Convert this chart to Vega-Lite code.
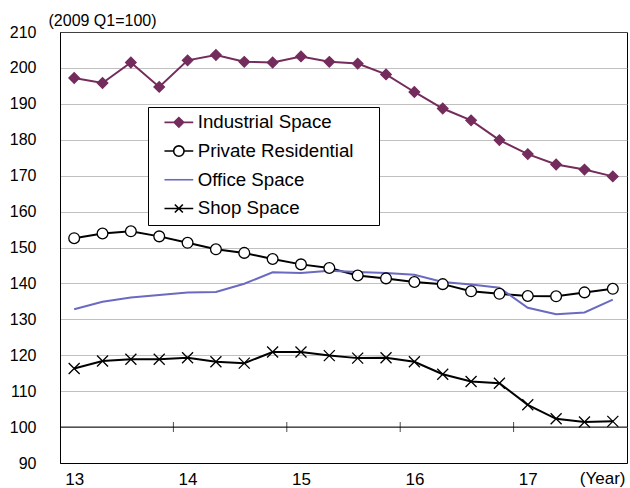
{
  "$schema": "https://vega.github.io/schema/vega-lite/v6.json",
  "autosize": {"type": "none"},
  "width": 567,
  "height": 431,
  "padding": {"left": 60, "top": 32, "right": 3, "bottom": 25},
  "background": "white",
  "config": {
    "font": "Liberation Sans",
    "view": {"stroke": "black", "strokeWidth": 1},
    "axis": {"labelColor": "black", "titleColor": "black", "labelFont": "Liberation Sans", "titleFont": "Liberation Sans"}
  },
  "data": {
    "values": [
      {"year": 2013.00, "Industrial Space": 197.2, "Private Residential": 152.6, "Office Space": 132.8, "Shop Space": 116.3},
      {"year": 2013.25, "Industrial Space": 195.8, "Private Residential": 153.9, "Office Space": 134.9, "Shop Space": 118.4},
      {"year": 2013.50, "Industrial Space": 201.5, "Private Residential": 154.5, "Office Space": 136.1, "Shop Space": 118.9},
      {"year": 2013.75, "Industrial Space": 194.7, "Private Residential": 153.1, "Office Space": 136.8, "Shop Space": 118.9},
      {"year": 2014.00, "Industrial Space": 202.1, "Private Residential": 151.3, "Office Space": 137.5, "Shop Space": 119.3},
      {"year": 2014.25, "Industrial Space": 203.6, "Private Residential": 149.5, "Office Space": 137.6, "Shop Space": 118.2},
      {"year": 2014.50, "Industrial Space": 201.7, "Private Residential": 148.5, "Office Space": 139.9, "Shop Space": 117.8},
      {"year": 2014.75, "Industrial Space": 201.5, "Private Residential": 146.8, "Office Space": 143.1, "Shop Space": 120.9},
      {"year": 2015.00, "Industrial Space": 203.2, "Private Residential": 145.3, "Office Space": 142.9, "Shop Space": 120.9},
      {"year": 2015.25, "Industrial Space": 201.7, "Private Residential": 144.3, "Office Space": 143.5, "Shop Space": 119.9},
      {"year": 2015.50, "Industrial Space": 201.2, "Private Residential": 142.2, "Office Space": 143.2, "Shop Space": 119.2},
      {"year": 2015.75, "Industrial Space": 198.2, "Private Residential": 141.4, "Office Space": 142.9, "Shop Space": 119.3},
      {"year": 2016.00, "Industrial Space": 193.3, "Private Residential": 140.4, "Office Space": 142.4, "Shop Space": 118.2},
      {"year": 2016.25, "Industrial Space": 188.7, "Private Residential": 139.8, "Office Space": 140.4, "Shop Space": 114.7},
      {"year": 2016.50, "Industrial Space": 185.4, "Private Residential": 137.8, "Office Space": 139.7, "Shop Space": 112.7},
      {"year": 2016.75, "Industrial Space": 179.9, "Private Residential": 137.1, "Office Space": 138.8, "Shop Space": 112.2},
      {"year": 2017.00, "Industrial Space": 176.0, "Private Residential": 136.5, "Office Space": 133.2, "Shop Space": 106.2},
      {"year": 2017.25, "Industrial Space": 173.1, "Private Residential": 136.4, "Office Space": 131.4, "Shop Space": 102.3},
      {"year": 2017.50, "Industrial Space": 171.7, "Private Residential": 137.5, "Office Space": 131.9, "Shop Space": 101.4},
      {"year": 2017.75, "Industrial Space": 169.8, "Private Residential": 138.5, "Office Space": 135.5, "Shop Space": 101.6}
    ]
  },
  "transform": [
    {"fold": ["Industrial Space", "Private Residential", "Office Space", "Shop Space"], "as": ["series", "value"]}
  ],
  "encoding": {
    "x": {
      "field": "year", "type": "quantitative",
      "scale": {"domain": [2012.875, 2017.875], "nice": false, "zero": false},
      "axis": {
        "title": "(Year)", "titleX": 565, "titleY": 20, "titleAlign": "right", "titleBaseline": "alphabetic",
        "titleFontWeight": "normal", "titleFontSize": 17, "titleAnchor": null,
        "values": [2013, 2014, 2015, 2016, 2017],
        "labelExpr": "substring(toString(datum.value), 2)",
        "labelFontSize": 17, "labelPadding": 8, "ticks": false, "tickSize": 0,
        "grid": false, "domainColor": "black", "labelFlush": false, "labelOverlap": false
      }
    },
    "y": {
      "field": "value", "type": "quantitative",
      "scale": {"domain": [90, 210], "nice": false, "zero": false},
      "axis": {
        "title": "(2009 Q1=100)", "titleAngle": 0, "titleAlign": "left", "titleBaseline": "alphabetic",
        "titleX": -12, "titleY": -7, "titleFontWeight": "normal", "titleFontSize": 16, "titleAnchor": null,
        "values": [90, 100, 110, 120, 130, 140, 150, 160, 170, 180, 190, 200, 210],
        "labelFontSize": 16, "labelPadding": 24, "ticks": false, "tickSize": 0,
        "grid": true, "gridColor": "#808080", "gridDash": [1, 1], "gridWidth": 1,
        "domainColor": "black", "labelFlush": false, "labelOverlap": false
      }
    }
  },
  "layer": [
    {
      "data": {"values": [{"base": 100}]},
      "mark": {"type": "rule", "color": "black", "strokeWidth": 1},
      "encoding": {"y": {"field": "base", "type": "quantitative"}, "x": null}
    },
    {
      "data": {"values": [{"b": 2013.875, "base": 100}, {"b": 2014.875, "base": 100}, {"b": 2015.875, "base": 100}, {"b": 2016.875, "base": 100}]},
      "mark": {"type": "tick", "orient": "vertical", "color": "black", "size": 10, "thickness": 1},
      "encoding": {
        "x": {"field": "b", "type": "quantitative"},
        "y": {"field": "base", "type": "quantitative"}
      }
    },
    {
      "mark": {"type": "line", "strokeWidth": 2},
      "encoding": {
        "color": {
          "field": "series", "type": "nominal",
          "scale": {
            "domain": ["Industrial Space", "Private Residential", "Office Space", "Shop Space"],
            "range": ["#742C5C", "#000000", "#6A6AC0", "#000000"]
          },
          "legend": {
            "orient": "none", "legendX": 88, "legendY": 75,
            "title": " ", "titleOrient": "right", "titlePadding": 19,
            "fillColor": "white", "strokeColor": "black", "padding": 6,
            "labelFont": "Liberation Sans", "labelFontSize": 18.7, "labelColor": "black",
            "symbolSize": 256, "symbolOffset": 15.5, "labelOffset": 9.5, "rowPadding": 8.7,
            "symbolStrokeWidth": 2,
            "encode": {
              "symbols": {
                "update": {
                  "shape": {"signal": "datum.value === 'Industrial Space' ? 'M-1.8,0H1.8M0,-0.6L0.6,0L0,0.6L-0.6,0Z' : datum.value === 'Private Residential' ? 'M-1.8,0H-0.65M0.65,0H1.8M0.65,0A0.65,0.65 0 1,1 -0.65,0A0.65,0.65 0 1,1 0.65,0Z' : datum.value === 'Office Space' ? 'M-1.8,0H1.8' : 'M-1.8,0H1.8M-0.5,-0.5L0.5,0.5M-0.5,0.5L0.5,-0.5'"},
                  "fill": {"signal": "datum.value === 'Industrial Space' ? '#742C5C' : datum.value === 'Private Residential' ? '#ffffff' : 'transparent'"},
                  "stroke": {"signal": "datum.value === 'Industrial Space' ? '#742C5C' : datum.value === 'Office Space' ? '#6A6AC0' : '#000000'"},
                  "strokeWidth": {"value": 1.6},
                  "opacity": {"value": 1}
                }
              }
            }
          }
        }
      }
    },
    {
      "transform": [{"filter": "datum.series !== 'Office Space'"}],
      "mark": {"type": "point", "filled": false, "strokeWidth": 1.3, "opacity": 1},
      "encoding": {
        "shape": {
          "field": "series", "type": "nominal",
          "scale": {"domain": ["Industrial Space", "Private Residential", "Shop Space"], "range": ["diamond", "circle", "M-1,-1L1,1M-1,1L1,-1"]},
          "legend": null
        },
        "size": {
          "field": "series", "type": "nominal",
          "scale": {"domain": ["Industrial Space", "Private Residential", "Shop Space"], "range": [110, 121, 80]},
          "legend": null
        },
        "fill": {
          "field": "series", "type": "nominal",
          "scale": {"domain": ["Industrial Space", "Private Residential", "Shop Space"], "range": ["#742C5C", "#ffffff", "transparent"]},
          "legend": null
        },
        "stroke": {
          "field": "series", "type": "nominal",
          "scale": {"domain": ["Industrial Space", "Private Residential", "Shop Space"], "range": ["#742C5C", "#000000", "#000000"]},
          "legend": null
        }
      }
    }
  ]
}
